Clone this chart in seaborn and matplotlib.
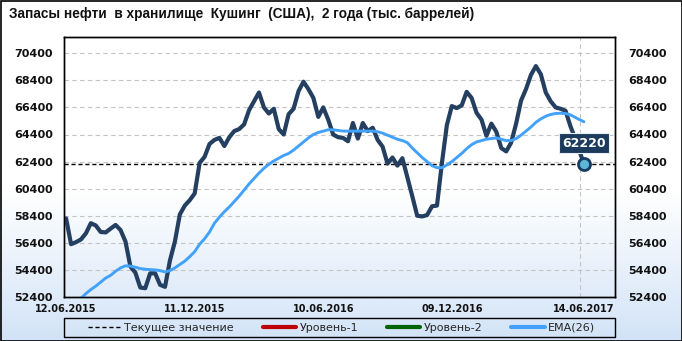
import numpy as np
import pandas as pd
import matplotlib
matplotlib.use("Agg")
import matplotlib.pyplot as plt
import matplotlib.dates as mdates
from matplotlib.lines import Line2D
from matplotlib.patches import Rectangle
import seaborn as sns

# ---------------- data ----------------
title = "Запасы нефти  в хранилище  Кушинг  (США),  2 года (тыс. баррелей)"
first_week = "2015-06-12"
n_weekly = 104
last_date = "2017-06-14"

stocks = [
    58200, 56300, 56450, 56650, 57100, 57850, 57680, 57200, 57170, 57450,
    57720, 57350, 56500, 54650, 54200, 53100, 53050, 54150, 54150, 53300,
    53150, 55100, 56500, 58500, 59150, 59550, 60050, 62300, 62750, 63700,
    64000, 64150, 63550, 64200, 64650, 64800, 65150, 66200, 66850, 67500,
    66400, 65950, 66300, 64800, 64400, 65900, 66300, 67600, 68300, 67750,
    67100, 65700, 66400, 65500, 64400, 64200, 64150, 63900, 65250, 64100,
    65250, 64650, 64900, 64000, 63500, 62250, 62700, 62100, 62650, 61250,
    59850, 58400, 58350, 58450, 59100, 59150, 62300, 65100, 66500, 66350,
    66550, 67550, 67100, 66000, 65500, 64300, 65200, 64600, 63400, 63150,
    63800, 65200, 66900, 67750, 68800, 69450, 68850, 67500, 66850, 66400,
    66300, 66150, 65000, 64050, 62220,
]

ema26 = [
    51000, 51600, 52000, 52300, 52650, 52950, 53200, 53500, 53800, 54000,
    54300, 54550, 54700, 54680, 54600, 54500, 54450, 54420, 54400, 54350,
    54250, 54350, 54550, 54800, 55050, 55380, 55750, 56300, 56700, 57200,
    57850, 58300, 58700, 59050, 59450, 59850, 60300, 60750, 61150, 61550,
    61900, 62200, 62450, 62650, 62850, 63000, 63250, 63550, 63850, 64150,
    64400, 64550, 64650, 64750, 64750, 64700, 64650, 64650, 64650, 64650,
    64650, 64650, 64650, 64600, 64500, 64350, 64200, 64050, 63950, 63800,
    63400, 63050, 62700, 62400, 62100, 61950, 61950, 62150, 62400, 62700,
    63000, 63350, 63650, 63850, 63950, 64050, 64100, 64150, 64050, 63950,
    63950, 64100, 64350, 64650, 64950, 65300, 65550, 65750, 65880, 65950,
    65970, 65950, 65850, 65650, 65340,
]

current_value = 62220
y_ticks = [52400, 54400, 56400, 58400, 60400, 62400, 64400, 66400, 68400, 70400]
x_tick_labels = ["12.06.2015", "11.12.2015", "10.06.2016", "09.12.2016", "14.06.2017"]
legend_labels = ["Текущее значение", "Уровень-1", "Уровень-2", "EMA(26)"]

dates = list(pd.date_range(first_week, periods=n_weekly, freq="7D")) + [pd.Timestamp(last_date)]
df = pd.DataFrame({"date": dates, "stock": stocks, "ema": ema26})

# ---------------- style ----------------
sns.set_theme(style="white")
plt.rcParams["font.family"] = ["DejaVu Sans"]

W, H = 682, 341
fig = plt.figure(figsize=(W / 100, H / 100), dpi=100)

# background gradient (white -> light blue at bottom)
rows = np.arange(H)
t = np.clip((rows - 190) / (H - 190), 0, 1)[:, None]
top = np.array([1.0, 1.0, 1.0])
bot = np.array([210, 227, 247]) / 255
grad = (top * (1 - t) + bot * t)[:, None, :]
bg = fig.add_axes([0, 0, 1, 1], zorder=-10)
bg.imshow(grad, aspect="auto", extent=[0, 1, 0, 1])
bg.axis("off")

ax = fig.add_axes([64 / W, 1 - 297 / H, (615 - 64) / W, (297 - 37) / H])
ax.patch.set_alpha(0)

dark = "#243f60"
blue = "#42a2fb"

ax.axhline(current_value, color="black", lw=1, ls=(0, (3, 2)), zorder=2)
sns.lineplot(data=df, x="date", y="stock", ax=ax, color=dark, lw=3, zorder=4,
             solid_joinstyle="round", solid_capstyle="round")
sns.lineplot(data=df, x="date", y="ema", ax=ax, color=blue, lw=2.1, zorder=5,
             solid_joinstyle="round")
sns.scatterplot(x=[dates[-1]], y=[stocks[-1]], ax=ax, s=75, color="#5bb7d5",
                edgecolor="#173a63", linewidth=2, zorder=7)

ax.annotate(f"{current_value}", xy=(dates[-1], stocks[-1]), xytext=(0, 21),
            textcoords="offset pixels", ha="center", va="center",
            color="white", fontweight="bold", fontsize=9,
            bbox=dict(boxstyle="square,pad=0.28", fc="#1b3a5c", ec="#e6eef5", lw=0.8),
            zorder=8, annotation_clip=False)

# axes limits
x0 = dates[0]
ax.set_xlim(mdates.date2num(x0 - pd.Timedelta(days=3)),
            mdates.date2num(x0 + pd.Timedelta(days=777)))
ax.set_ylim(52400, 71600)

# y ticks both sides
ax.set_yticks(y_ticks, labels=[str(v) for v in y_ticks], fontweight="bold", fontsize=8)
ax.tick_params(axis="y", length=0, pad=8, labelcolor="#111111")
ax2 = ax.twinx()
ax2.set_ylim(ax.get_ylim())
ax2.set_yticks(y_ticks, labels=[str(v) for v in y_ticks], fontweight="bold", fontsize=8)
ax2.tick_params(axis="y", length=0, pad=9.5, labelcolor="#111111")
ax2.grid(False)

# x ticks
tick_idx = [0, 26, 52, 78, 104]
ax.set_xticks([mdates.date2num(dates[i]) for i in tick_idx],
              labels=x_tick_labels, fontweight="bold", fontsize=7)
ax.tick_params(axis="x", length=0, pad=5, labelcolor="#111111")
minor = [mdates.date2num(x0 + pd.Timedelta(days=182 * k)) for k in range(1, 5)]
ax.set_xticks(minor, minor=True)
ax.tick_params(axis="x", which="minor", length=0)

ax.grid(axis="y", which="major", color="#c4c4c4", ls=(0, (4, 3)), lw=0.8)
ax.grid(axis="x", which="minor", color="#c4c4c4", ls=(0, (4, 3)), lw=0.8)
ax.grid(axis="x", which="major", visible=False)
ax.set_axisbelow(True)
ax.set_xlabel("")
ax.set_ylabel("")
ax2.set_ylabel("")

for a in (ax, ax2):
    for s in a.spines.values():
        s.set_color("black")
        s.set_linewidth(1)
        s.set_visible(True)

# title
fig.text(9 / W, 1 - 14 / H, title, ha="left", va="center", fontsize=9.8,
         fontweight="bold", family=["Liberation Sans", "DejaVu Sans"], color="#111111")

# legend
handles = [
    Line2D([], [], color="black", lw=1, ls=(0, (3, 2))),
    Line2D([], [], color="#c00000", lw=3),
    Line2D([], [], color="#006400", lw=3),
    Line2D([], [], color=blue, lw=3),
]
fig.legend(handles, legend_labels, loc="center", bbox_to_anchor=(341.5 / W, 1 - 328 / H),
           ncol=4, frameon=False, fontsize=8, handlelength=3.0, handletextpad=0.3,
           columnspacing=2.6, borderpad=0.0)
fig.add_artist(Rectangle((64 / W, 1 - 337 / H), 551 / W, 19 / H, transform=fig.transFigure,
                         fill=False, ec="black", lw=1))

# figure border
fig.add_artist(Rectangle((0.5 / W, 0.5 / H), (W - 1) / W, (H - 1) / H, transform=fig.transFigure,
                         fill=False, ec="black", lw=1.2))

fig.savefig("out.png", dpi=100)
